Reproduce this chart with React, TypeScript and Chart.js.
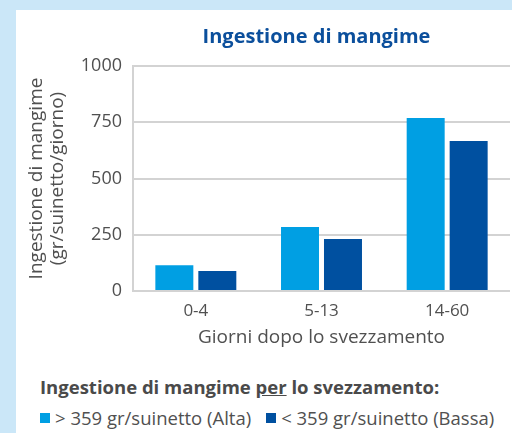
import React, { useEffect, useRef } from 'react';
import { Chart, registerables } from 'chart.js';

Chart.register(...registerables);

const categories = ['0-4', '5-13', '14-60'];
const altaValues = [115, 284, 769];
const bassaValues = [89, 231, 667];
const seriesLabels = ['> 359 gr/suinetto (Alta)', '< 359 gr/suinetto (Bassa)'];
const seriesColors = ['#009fe3', '#0050a0'];
const chartTitle = 'Ingestione di mangime';
const yTitle = ['Ingestione di mangime', '(gr/suinetto/giorno)'];
const xTitle = 'Giorni dopo lo svezzamento';

const FONT = '"Open Sans", "DejaVu Sans", sans-serif';
const GRAY = '#505050';
const GRID = '#d3d3d3';

const titlePlugin = {
  id: 'centerTitle',
  afterDraw(chart: any) {
    const { ctx, chartArea } = chart;
    ctx.save();
    ctx.font = `bold 20px ${FONT}`;
    ctx.fillStyle = '#0b4f9c';
    ctx.textAlign = 'center';
    ctx.textBaseline = 'middle';
    ctx.fillText(chartTitle, (chartArea.left + chartArea.right) / 2 - 5, 37);
    ctx.restore();
  },
};

export default function App() {
  const ref = useRef<HTMLCanvasElement>(null);

  useEffect(() => {
    if (!ref.current) return;
    const chart = new Chart(ref.current, {
      type: 'bar',
      data: {
        labels: categories,
        datasets: [
          { label: seriesLabels[0], data: altaValues, backgroundColor: seriesColors[0], borderWidth: 0 },
          { label: seriesLabels[1], data: bassaValues, backgroundColor: seriesColors[1], borderWidth: 0 },
        ],
      },
      options: {
        animation: false,
        responsive: false,
        devicePixelRatio: 1,
        layout: { padding: { top: 66, right: 2, left: 0, bottom: 0 } },
        datasets: { bar: { categoryPercentage: 0.684, barPercentage: 0.884 } },
        plugins: {
          legend: { display: false },
          title: { display: false },
          tooltip: { enabled: false },
        },
        scales: {
          x: {
            grid: { display: false, drawTicks: false },
            border: { display: false },
            ticks: { color: GRAY, font: { family: FONT, size: 17 }, padding: 10 },
            title: {
              display: true,
              text: xTitle,
              color: GRAY,
              font: { family: FONT, size: 19, lineHeight: 1.2 },
              padding: { top: 0, bottom: 2 },
            },
            afterFit(scale: any) {
              scale.height = 60;
            },
          },
          y: {
            min: 0,
            max: 1000,
            ticks: {
              stepSize: 250,
              color: GRAY,
              font: { family: FONT, size: 18 },
              padding: 11,
              callback: (v: any) => String(v),
            },
            grid: { color: GRID, lineWidth: 2, drawTicks: false },
            border: { display: true, color: GRID, width: 2 },
            title: {
              display: true,
              text: yTitle,
              color: GRAY,
              font: { family: FONT, size: 19, lineHeight: 1.1 },
              padding: { top: 26, bottom: 0 },
            },
            afterFit(scale: any) {
              scale.width = 133;
            },
          },
        },
      },
      plugins: [titlePlugin],
    });
    return () => chart.destroy();
  }, []);

  return (
    <div style={{ position: 'fixed', left: 0, top: 0, width: 512, height: 433, background: '#cbe7f8', overflow: 'hidden', fontFamily: FONT }}>
      <div style={{ position: 'absolute', left: 16, top: 10, right: 0, bottom: 0, background: '#ffffff' }} />
      <canvas ref={ref} width={512} height={351} style={{ position: 'absolute', left: 0, top: 0, width: 512, height: 351 }} />
      <div style={{ position: 'absolute', left: 40, top: 375, fontSize: 18.5, fontWeight: 'bold', color: '#4a4a4a', whiteSpace: 'nowrap', lineHeight: '24px' }}>
        Ingestione di mangime <u>per</u> lo svezzamento:
      </div>
      <div style={{ position: 'absolute', left: 40, top: 406, fontSize: 18.5, color: GRAY, whiteSpace: 'nowrap', lineHeight: '24px', display: 'flex', alignItems: 'center' }}>
        {seriesLabels.map((label, i) => (
          <span key={label} style={{ display: 'inline-flex', alignItems: 'center', marginRight: i === 0 ? 15 : 0 }}>
            <span style={{ display: 'inline-block', width: 10, height: 10, background: seriesColors[i], marginRight: 5 }} />
            {label}
          </span>
        ))}
      </div>
    </div>
  );
}
